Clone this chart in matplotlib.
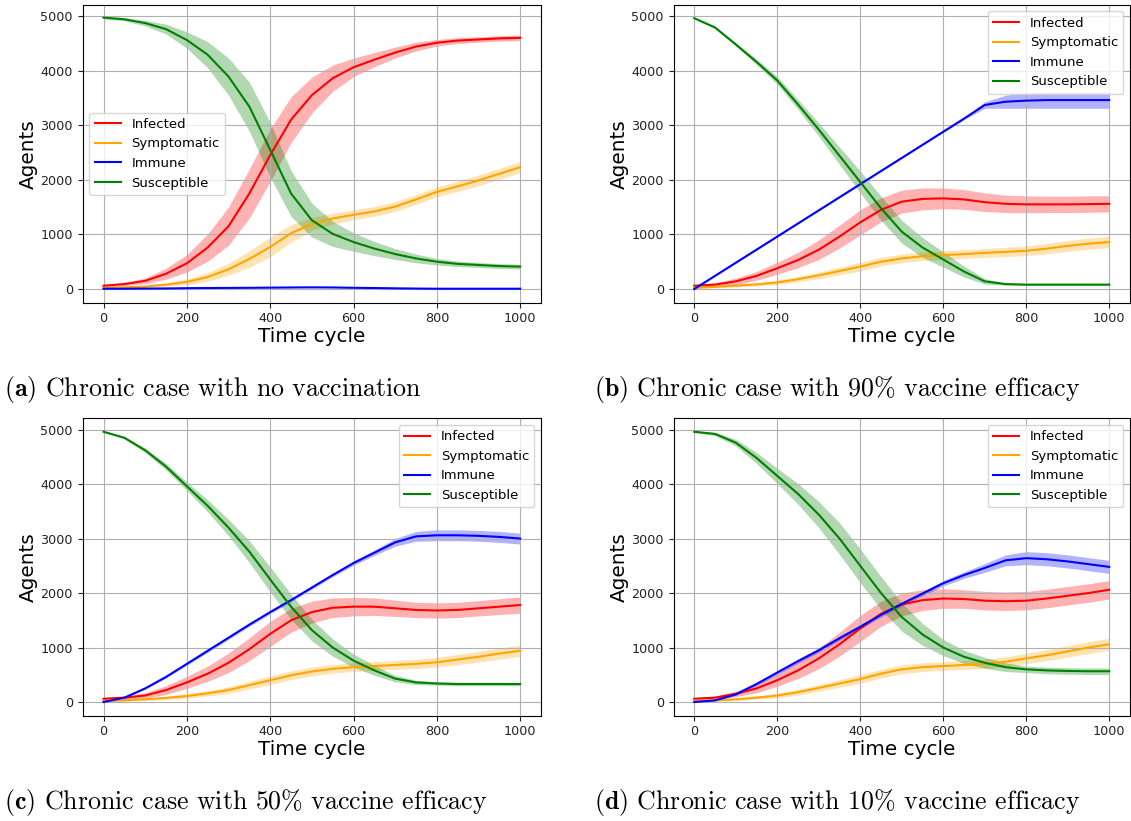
import numpy as np
import matplotlib
matplotlib.use("Agg")
import matplotlib.pyplot as plt

plt.rcParams['mathtext.fontset'] = 'cm'

# Simulation time cycles at which the averaged results are reported
cycles = list(range(0, 1001, 50))

series_names = ["Infected", "Symptomatic", "Immune", "Susceptible"]
series_colors = ["red", "orange", "blue", "green"]

# (a) no vaccination
a_infected = [60, 90, 150, 280, 470, 760, 1150, 1750, 2450, 3100, 3550, 3860, 4060, 4200, 4330, 4440, 4510, 4550, 4570, 4590, 4600]
a_symptomatic = [20, 30, 45, 80, 130, 220, 360, 550, 770, 1020, 1190, 1290, 1360, 1420, 1510, 1640, 1780, 1880, 1990, 2110, 2230]
a_immune = [5, 5, 8, 10, 15, 18, 20, 22, 25, 28, 30, 28, 22, 18, 12, 8, 5, 5, 5, 5, 5]
a_susceptible = [4970, 4940, 4870, 4760, 4560, 4290, 3890, 3340, 2550, 1750, 1260, 1010, 860, 740, 640, 560, 500, 460, 440, 420, 410]
a_infected_sd = [20, 30, 50, 100, 160, 250, 350, 450, 480, 420, 330, 240, 170, 130, 100, 80, 60, 55, 50, 50, 50]
a_symptomatic_sd = [10, 15, 20, 30, 50, 80, 110, 150, 180, 160, 120, 100, 90, 90, 90, 90, 90, 95, 100, 100, 100]
a_immune_sd = [3] * 21
a_susceptible_sd = [20, 30, 50, 90, 150, 240, 340, 450, 500, 420, 310, 230, 170, 130, 100, 80, 60, 50, 45, 45, 45]

# (b) 90% vaccine efficacy
b_infected = [60, 80, 140, 240, 380, 530, 720, 960, 1220, 1450, 1600, 1650, 1660, 1640, 1590, 1560, 1550, 1550, 1550, 1555, 1560]
b_symptomatic = [20, 40, 60, 85, 120, 180, 250, 330, 410, 500, 560, 600, 620, 640, 660, 680, 700, 740, 790, 830, 860]
b_immune = [0, 240, 480, 720, 960, 1200, 1440, 1680, 1920, 2160, 2400, 2640, 2880, 3120, 3370, 3430, 3450, 3460, 3460, 3460, 3460]
b_susceptible = [4960, 4790, 4480, 4160, 3820, 3380, 2920, 2440, 1960, 1480, 1050, 760, 540, 320, 140, 90, 80, 80, 80, 80, 80]
b_infected_sd = [20, 30, 60, 80, 110, 140, 180, 210, 230, 220, 210, 200, 190, 180, 170, 160, 155, 150, 150, 150, 150]
b_symptomatic_sd = [10, 15, 20, 30, 40, 50, 60, 70, 80, 80, 80, 80, 80, 80, 80, 85, 90, 95, 100, 100, 105]
b_immune_sd = [5, 10, 10, 10, 10, 10, 10, 10, 10, 10, 10, 10, 15, 20, 60, 120, 140, 150, 150, 150, 150]
b_susceptible_sd = [10, 20, 30, 50, 70, 90, 120, 160, 200, 220, 210, 180, 140, 100, 50, 20, 15, 15, 15, 15, 15]

# (c) 50% vaccine efficacy
c_infected = [60, 80, 120, 220, 360, 520, 720, 970, 1250, 1500, 1650, 1730, 1750, 1750, 1720, 1690, 1680, 1690, 1720, 1750, 1780]
c_symptomatic = [20, 30, 50, 75, 110, 160, 220, 310, 400, 490, 560, 610, 640, 660, 680, 700, 730, 780, 830, 890, 940]
c_immune = [0, 80, 250, 460, 700, 940, 1180, 1420, 1650, 1870, 2100, 2330, 2550, 2740, 2930, 3040, 3060, 3060, 3050, 3030, 3000]
c_susceptible = [4960, 4850, 4620, 4320, 3960, 3600, 3200, 2760, 2250, 1750, 1320, 1000, 760, 580, 430, 360, 340, 330, 330, 330, 330]
c_infected_sd = [20, 30, 50, 80, 110, 140, 180, 210, 230, 220, 200, 180, 170, 160, 150, 140, 140, 140, 140, 145, 150]
c_symptomatic_sd = [10, 15, 20, 30, 40, 50, 60, 70, 80, 80, 80, 80, 80, 80, 80, 85, 90, 95, 100, 100, 105]
c_immune_sd = [5, 10, 15, 20, 25, 30, 30, 30, 30, 30, 30, 30, 40, 50, 70, 90, 100, 100, 100, 100, 100]
c_susceptible_sd = [10, 20, 40, 60, 80, 110, 150, 200, 230, 230, 200, 160, 120, 90, 60, 40, 30, 30, 30, 30, 30]

# (d) 10% vaccine efficacy
d_infected = [60, 80, 150, 250, 400, 580, 800, 1060, 1350, 1620, 1790, 1870, 1900, 1890, 1860, 1850, 1860, 1900, 1950, 2000, 2060]
d_symptomatic = [20, 30, 50, 80, 120, 180, 260, 340, 420, 520, 600, 640, 660, 680, 700, 740, 800, 860, 930, 1000, 1060]
d_immune = [0, 30, 140, 330, 540, 750, 950, 1170, 1380, 1600, 1800, 1990, 2180, 2330, 2460, 2600, 2640, 2620, 2580, 2530, 2480]
d_susceptible = [4960, 4920, 4760, 4480, 4150, 3820, 3440, 3000, 2500, 2000, 1560, 1240, 1000, 830, 720, 640, 600, 580, 570, 565, 565]
d_infected_sd = [20, 30, 50, 80, 110, 150, 190, 220, 240, 230, 210, 190, 180, 170, 170, 170, 170, 170, 170, 170, 170]
d_symptomatic_sd = [10, 15, 20, 30, 40, 50, 60, 70, 80, 80, 80, 80, 80, 80, 85, 90, 95, 100, 105, 110, 110]
d_immune_sd = [5, 10, 20, 30, 40, 40, 40, 40, 40, 40, 40, 40, 50, 60, 80, 100, 120, 120, 120, 120, 120]
d_susceptible_sd = [15, 30, 60, 100, 140, 190, 240, 290, 310, 300, 260, 200, 150, 120, 100, 80, 60, 60, 60, 60, 60]

captions = [
    r"$\mathbf{(a)}$ Chronic case with no vaccination",
    r"$\mathbf{(b)}$ Chronic case with 90% vaccine efficacy",
    r"$\mathbf{(c)}$ Chronic case with 50% vaccine efficacy",
    r"$\mathbf{(d)}$ Chronic case with 10% vaccine efficacy",
]

panels = [
    ([a_infected, a_symptomatic, a_immune, a_susceptible],
     [a_infected_sd, a_symptomatic_sd, a_immune_sd, a_susceptible_sd], "center left"),
    ([b_infected, b_symptomatic, b_immune, b_susceptible],
     [b_infected_sd, b_symptomatic_sd, b_immune_sd, b_susceptible_sd], "upper right"),
    ([c_infected, c_symptomatic, c_immune, c_susceptible],
     [c_infected_sd, c_symptomatic_sd, c_immune_sd, c_susceptible_sd], "upper right"),
    ([d_infected, d_symptomatic, d_immune, d_susceptible],
     [d_infected_sd, d_symptomatic_sd, d_immune_sd, d_susceptible_sd], "upper right"),
]

W, H = 1131, 821
fig = plt.figure(figsize=(W / 100, H / 100), dpi=100)

# axes boxes in pixels: left, top, right, bottom
boxes = [(82.7, 4.7, 541, 302.7), (673.5, 4.7, 1130, 302.7),
         (82.7, 418.3, 541, 715.7), (673.5, 418.3, 1130, 715.7)]
caption_pos = [(4, 389.5), (594, 389.5), (4, 802.5), (594, 802.5)]

x = np.array(cycles)
for (means, sds, loc), (l, t, r, b), cap, (cx, cy) in zip(panels, boxes, captions, caption_pos):
    ax = fig.add_axes([l / W, 1 - b / H, (r - l) / W, (b - t) / H])
    for name, color, m, s in zip(series_names, series_colors, means, sds):
        m = np.array(m, dtype=float)
        s = np.array(s, dtype=float)
        ax.plot(x, m, color=color, lw=1.5, label=name)
        ax.fill_between(x, m - s, m + s, color=color, alpha=0.3, lw=0)
    ax.set_xlim(-50, 1050)
    ax.set_ylim(-251, 5207)
    ax.set_xticks([0, 200, 400, 600, 800, 1000])
    ax.set_yticks([0, 1000, 2000, 3000, 4000, 5000])
    ax.tick_params(labelsize=9.2, colors="#222222")
    ax.grid(True, color="#b0b0b0", lw=0.8)
    ax.set_xlabel("Time cycle", fontsize=14.4, labelpad=1)
    ax.set_ylabel("Agents", fontsize=14.4, labelpad=2)
    ax.legend(loc=loc, fontsize=9.5)
    fig.text(cx / W, 1 - cy / H, cap, fontsize=18.6, family="cmr10",
             ha="left", va="center")

fig.savefig("out.png", dpi=100)
